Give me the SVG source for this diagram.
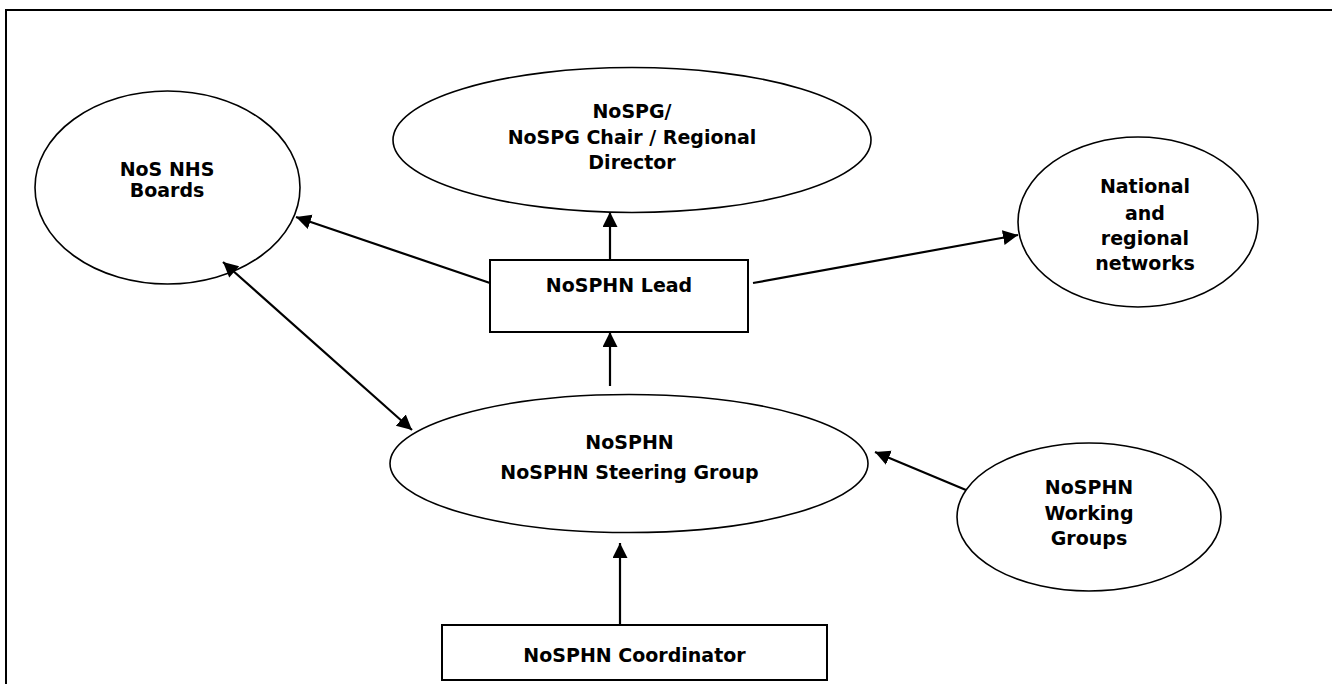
<svg xmlns="http://www.w3.org/2000/svg" width="1332" height="684" viewBox="0 0 1332 684">
<style>
.n{fill:#fff;stroke:#000;stroke-width:1.6}
.r{fill:#fff;stroke:#000;stroke-width:2}
.t{font-family:"DejaVu Sans",Verdana,sans-serif;font-weight:bold;font-size:19px;fill:#000;text-anchor:middle}
.c{stroke:#000;stroke-width:2.2;fill:none;marker-end:url(#ah)}
</style>
<defs>
<marker id="ah" markerUnits="userSpaceOnUse" markerWidth="16" markerHeight="16" viewBox="0 0 16 16" refX="15" refY="7.5" orient="auto">
<path d="M0,0 L15,7.5 L0,15 z" fill="#000"/>
</marker>
<marker id="as" markerUnits="userSpaceOnUse" markerWidth="16" markerHeight="16" viewBox="0 0 16 16" refX="0" refY="7.5" orient="auto">
<path d="M15,0 L0,7.5 L15,15 z" fill="#000"/>
</marker>
</defs>
<rect width="1332" height="684" fill="#fff"/>
<path d="M6,684 V10 H1332" fill="none" stroke="#000" stroke-width="2"/>

<g id="boards">
<ellipse class="n" cx="167.5" cy="187.5" rx="132.5" ry="96.5"/>
<text class="t" x="167" y="176">NoS NHS</text>
<text class="t" x="167" y="197">Boards</text>
</g>

<g id="nospg">
<ellipse class="n" cx="632" cy="140" rx="239" ry="72.5"/>
<text class="t" x="632" y="118">NoSPG/</text>
<text class="t" x="632" y="144">NoSPG Chair / Regional</text>
<text class="t" x="632" y="169">Director</text>
</g>

<g id="national">
<ellipse class="n" cx="1138" cy="222" rx="120" ry="85"/>
<text class="t" x="1145" y="193">National</text>
<text class="t" x="1145" y="220">and</text>
<text class="t" x="1145" y="245">regional</text>
<text class="t" x="1145" y="270">networks</text>
</g>

<g id="lead">
<rect class="r" x="490" y="260" width="258" height="72"/>
<text class="t" x="619" y="292">NoSPHN Lead</text>
</g>

<g id="steering">
<ellipse class="n" cx="629" cy="463.5" rx="239" ry="69"/>
<text class="t" x="629.5" y="449">NoSPHN</text>
<text class="t" x="629.5" y="478.5">NoSPHN Steering Group</text>
</g>

<g id="working">
<ellipse class="n" cx="1089" cy="517" rx="132" ry="74"/>
<text class="t" x="1089" y="494">NoSPHN</text>
<text class="t" x="1089" y="520">Working</text>
<text class="t" x="1089" y="545">Groups</text>
</g>

<g id="coordinator">
<rect class="r" x="442" y="625" width="385" height="55" stroke-width="1.6"/>
<text class="t" x="634.5" y="662">NoSPHN Coordinator</text>
</g>

<g id="connectors">
<line class="c" x1="610" y1="260" x2="610" y2="212"/>
<line class="c" x1="610" y1="386" x2="610" y2="332"/>
<line class="c" x1="620" y1="625" x2="620" y2="543"/>
<line class="c" x1="490" y1="283" x2="296" y2="217"/>
<line class="c" x1="753" y1="283" x2="1018" y2="235"/>
<line class="c" x1="966" y1="490" x2="875" y2="452"/>
<line class="c" x1="223" y1="262" x2="412" y2="430" marker-start="url(#as)"/>
</g>
</svg>
